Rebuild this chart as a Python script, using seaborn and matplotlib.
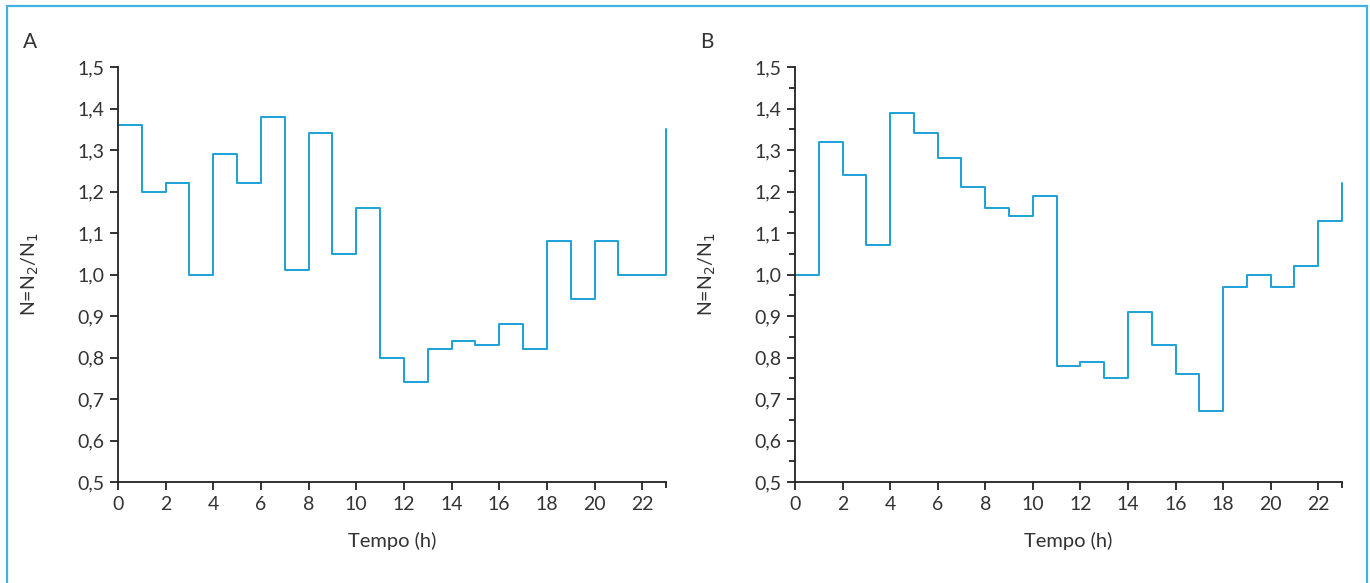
import numpy as np
import pandas as pd
import matplotlib
matplotlib.use('Agg')
import matplotlib.pyplot as plt
import seaborn as sns
from matplotlib.ticker import FixedLocator, FuncFormatter, MultipleLocator

# Hourly N = N2/N1 ratios (steps start at each hour)
hours = list(range(24))
ratio_a = [1.36, 1.20, 1.22, 1.00, 1.29, 1.22, 1.38, 1.01, 1.34, 1.05, 1.16, 0.80,
           0.74, 0.82, 0.84, 0.83, 0.88, 0.82, 1.08, 0.94, 1.08, 1.00, 1.00, 1.35]
ratio_b = [1.00, 1.32, 1.24, 1.07, 1.39, 1.34, 1.28, 1.21, 1.16, 1.14, 1.19, 0.78,
           0.79, 0.75, 0.91, 0.83, 0.76, 0.67, 0.97, 1.00, 0.97, 1.02, 1.13, 1.22]
panel_labels = ['A', 'B']
x_ticks = list(range(0, 23, 2))
y_ticks = [0.5, 0.6, 0.7, 0.8, 0.9, 1.0, 1.1, 1.2, 1.3, 1.4, 1.5]

sns.set_style('ticks')
plt.rcParams['font.family'] = ['Lato', 'DejaVu Sans']

line_color = '#1ba1d9'
text_color = '#333333'

fig = plt.figure(figsize=(13.7, 5.83), dpi=100)
W, H = 1370, 583
boxes = [(118, 67, 666, 482), (795, 67, 1342, 482)]

for label, vals, (l, t, r, b) in zip(panel_labels, [ratio_a, ratio_b], boxes):
    ax = fig.add_axes([l / W, 1 - b / H, (r - l) / W, (b - t) / H])
    df = pd.DataFrame({'hora': hours, 'N': vals})
    sns.lineplot(data=df, x='hora', y='N', ax=ax, color=line_color, lw=1.4,
                 drawstyle='steps-post', sort=False, clip_on=False)
    ax.set_xlim(0, 23)
    ax.set_ylim(0.5, 1.5)
    sns.despine(ax=ax)
    for s in ['left', 'bottom']:
        ax.spines[s].set_linewidth(1.3)
        ax.spines[s].set_color('#222222')
    ax.xaxis.set_major_locator(FixedLocator(x_ticks))
    ax.xaxis.set_minor_locator(FixedLocator([23]))
    ax.yaxis.set_major_locator(FixedLocator(y_ticks))
    if label == 'B':
        ax.yaxis.set_minor_locator(MultipleLocator(0.05))
    ax.yaxis.set_major_formatter(FuncFormatter(lambda v, p: f'{v:.1f}'.replace('.', ',')))
    ax.tick_params(axis='both', which='major', length=6, width=1.3, color='#222222',
                   labelsize=14, labelcolor=text_color, pad=4)
    ax.tick_params(axis='both', which='minor', length=4, width=1.3, color='#222222')
    ax.set_xlabel('Tempo (h)', fontsize=14.5, color=text_color, labelpad=14)
    ax.set_ylabel('N=N$_2$/N$_1$', fontsize=14, color=text_color, labelpad=26)
    fig.text((l - 88) / W, 1 - 42 / H, label, fontsize=15, color=text_color,
             ha='center', va='center')

# light blue frame around the figure
fig.add_artist(plt.Rectangle((7 / W, -0.002), (1367 - 7) / W, 1 - 6 / H + 0.002,
                             transform=fig.transFigure, fill=False,
                             edgecolor='#3fb3e3', lw=1.6))

plt.savefig('out.png', dpi=100)
